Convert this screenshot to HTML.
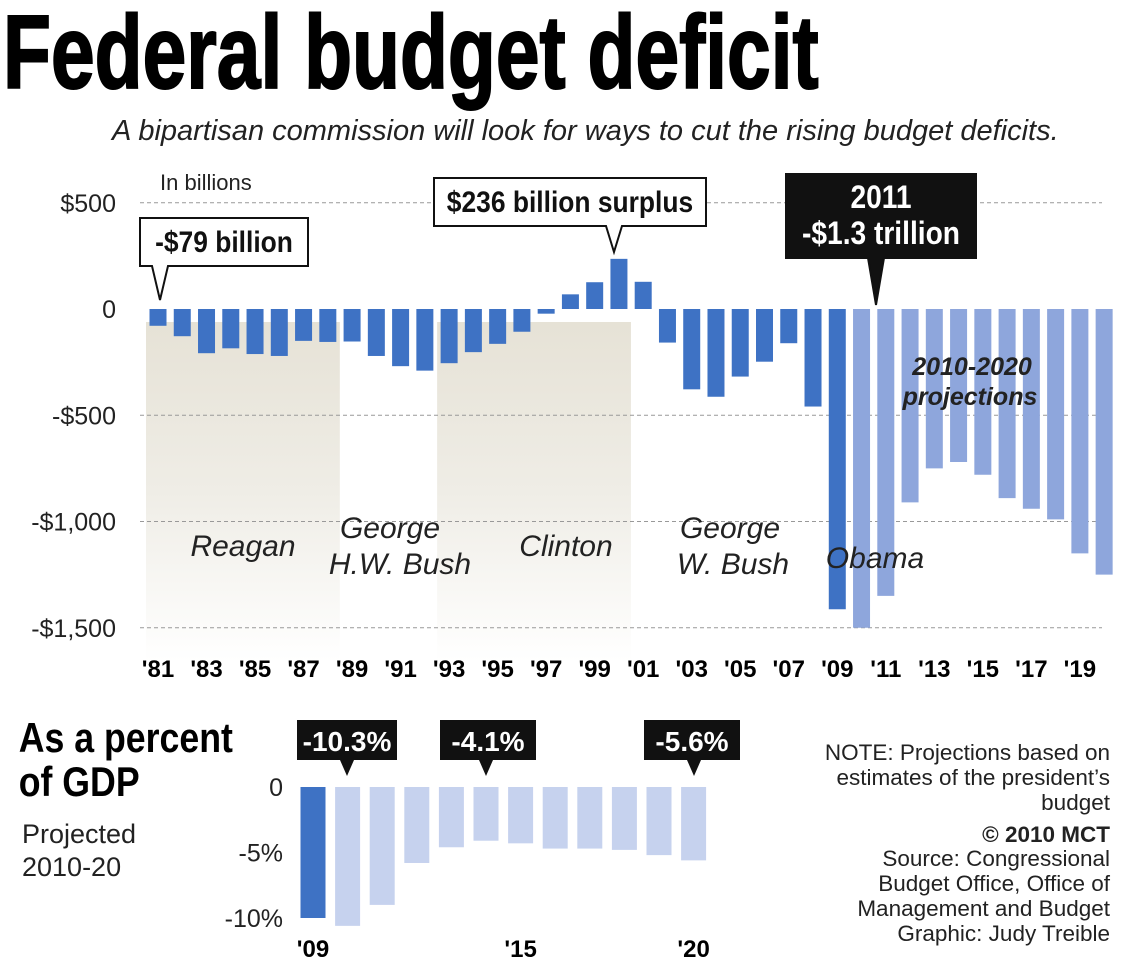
<!DOCTYPE html>
<html><head><meta charset="utf-8"><style>
body{margin:0;background:#fff;}
svg{display:block;font-family:"Liberation Sans",sans-serif;}
</style></head><body>
<svg id="c" width="1138" height="969" viewBox="0 0 1138 969">
<defs>
<linearGradient id="shade" x1="0" y1="0" x2="0" y2="1">
<stop offset="0" stop-color="#e6e2d6"/><stop offset="0.5" stop-color="#efede6"/><stop offset="1" stop-color="#ffffff"/>
</linearGradient>
</defs>
<text x="4" y="88" font-size="104" font-weight="bold" stroke="#000" stroke-width="2" transform="scale(0.755,1)">Federal budget deficit</text>
<text x="112" y="140" font-size="29" font-style="italic" fill="#222">A bipartisan commission will look for ways to cut the rising budget deficits.</text>
<g id="main"></g>
<g id="pct"></g>
<g font-size="22.5" fill="#222" text-anchor="end">
<text x="1110" y="760">NOTE: Projections based on</text>
<text x="1110" y="785">estimates of the president’s</text>
<text x="1110" y="810">budget</text>
<text x="1110" y="842" font-weight="bold">© 2010 MCT</text>
<text x="1110" y="866">Source: Congressional</text>
<text x="1110" y="891">Budget Office, Office of</text>
<text x="1110" y="916">Management and Budget</text>
<text x="1110" y="941">Graphic: Judy Treible</text>
</g>
<g>
<text x="22" y="752" font-size="42" font-weight="bold" transform="scale(0.85,1)">As a percent</text>
<text x="22" y="796" font-size="42" font-weight="bold" transform="scale(0.85,1)">of GDP</text>
<text x="22" y="843" font-size="27" fill="#222">Projected</text>
<text x="22" y="876" font-size="27" fill="#222">2010-20</text>
</g>
</svg>
<script>
const years=[1981,1982,1983,1984,1985,1986,1987,1988,1989,1990,1991,1992,1993,1994,1995,1996,1997,1998,1999,2000,2001,2002,2003,2004,2005,2006,2007,2008,2009,2010,2011,2012,2013,2014,2015,2016,2017,2018,2019,2020];
const deficits=[-79,-128,-208,-185,-212,-221,-150,-155,-153,-221,-269,-290,-255,-203,-164,-107,-22,69,126,236,128,-158,-378,-413,-318,-248,-161,-459,-1413,-1500,-1350,-910,-750,-720,-780,-890,-940,-990,-1150,-1250];
const yTicks=[500,0,-500,-1000,-1500];
const yTickLabels=["$500","0","-$500","-$1,000","-$1,500"];
const xTickYears=[1981,1983,1985,1987,1989,1991,1993,1995,1997,1999,2001,2003,2005,2007,2009,2011,2013,2015,2017,2019];
const pctYears=[2009,2010,2011,2012,2013,2014,2015,2016,2017,2018,2019,2020];
const pctValues=[-10.0,-10.6,-9.0,-5.8,-4.6,-4.1,-4.3,-4.7,-4.7,-4.8,-5.2,-5.6];
const pctTicks=[0,-5,-10];
const pctTickLabels=["0","-5%","-10%"];
const pctXLabels=[2009,2015,2020];

const NS="http://www.w3.org/2000/svg";
function mk(parent,tag,attrs,txt){const e=document.createElementNS(NS,tag);for(const k in attrs)e.setAttribute(k,attrs[k]);if(txt!==undefined)e.textContent=txt;parent.appendChild(e);return e;}
const X=y=>158+(y-1981)*24.26;
const Y=v=>309-v*0.2125;
const g=document.getElementById('main');
[[1981,1988],[1993,2000]].forEach(p=>{
 const r=mk(g,'rect',{x:X(p[0])-12,y:322,width:X(p[1])-X(p[0])+24,height:340,fill:'url(#shade)'});
 
 
});
yTicks.forEach((t,i)=>{
 if(t!==0){const l=mk(g,'line',{x1:140,x2:1102,y1:Y(t),y2:Y(t),stroke:'#999','stroke-dasharray':'4 3'});
 
 }
 const tx=mk(g,'text',{x:116,y:Y(t)+9,'font-size':25,'text-anchor':'end',fill:'#222'},yTickLabels[i]);
 
 
});
mk(g,'text',{x:160,y:190,'font-size':22,fill:'#222'},'In billions');
years.forEach((y,i)=>{
 const v=deficits[i];
 const r=mk(g,'rect',{x:X(y)-8.5,y:Math.min(Y(v),Y(0)),width:17,height:Math.abs(Y(v)-Y(0)),fill:y>=2010?'#8ea6dc':'#3e72c4'});
 
 
});
xTickYears.forEach(y=>{
 const t=mk(g,'text',{x:X(y),y:677,'font-size':24,'font-weight':'bold','text-anchor':'middle'},"'"+String(y).slice(2));
 
 
});
[["Reagan",243,556],["George",390,538],["H.W. Bush",400,574],["Clinton",566,556],["George",730,538],["W. Bush",733,574],["Obama",875,568]].forEach(n=>{
 const t=mk(g,'text',{x:n[1],y:n[2],'font-size':30,'font-style':'italic','text-anchor':'middle',fill:'#222'},n[0]);
 
 
});
mk(g,'text',{x:972,y:375,'font-size':25,'font-weight':'bold','font-style':'italic','text-anchor':'middle',fill:'#222'},'2010-2020');
mk(g,'text',{x:970,y:405,'font-size':25,'font-weight':'bold','font-style':'italic','text-anchor':'middle',fill:'#222'},'projections');
function callout(x,y,w,h,tipX,tipY,lines,dark,fs){
 const c=mk(g,'g',{});
 
 
 const fill=dark?'#111':'#fff';
 mk(c,'path',{d:`M${x},${y}h${w}v${h}H${tipX+8}L${tipX},${tipY}L${tipX-8},${y+h}H${x}Z`,fill:fill,stroke:'#111','stroke-width':2});
 lines.forEach((s,i)=>mk(c,'text',{x:x+w/2,y:y+34+i*36,'font-size':fs,'font-weight':'bold','text-anchor':'middle',fill:dark?'#fff':'#111',transform:`translate(${(x+w/2)*0.12},0) scale(0.88,1)`},s));
}
callout(140,218,168,48,160,300,['-$79 billion'],false,30);
callout(434,178,272,48,614,252,['$236 billion surplus'],false,30);
callout(786,174,190,84,876,305,['2011','-$1.3 trillion'],true,32);
const p=document.getElementById('pct');
const PX=y=>313+(y-2009)*34.6;
const PY=v=>787+v*(-13.1);
pctTicks.forEach((t,i)=>{
 const l=mk(p,'text',{x:283,y:PY(t)+9,'font-size':25,'text-anchor':'end',fill:'#222'},pctTickLabels[i]);
 
 
});
pctYears.forEach((y,i)=>{
 const r=mk(p,'rect',{x:PX(y)-12.5,y:PY(0),width:25,height:PY(pctValues[i])-PY(0),fill:y>=2010?'#c6d2ee':'#3e72c4'});
 
 
});
pctXLabels.forEach(y=>{
 const t=mk(p,'text',{x:PX(y),y:957,'font-size':24,'font-weight':'bold','text-anchor':'middle'},"'"+String(y).slice(2));
 
 
});
[[297,100,'-10.3%',347],[440,96,'-4.1%',486],[644,96,'-5.6%',694]].forEach(c=>{
 const gg=mk(p,'g',{});
 
 
 mk(gg,'path',{d:`M${c[0]},720h${c[1]}v40H${c[3]+7}L${c[3]},776L${c[3]-7},760H${c[0]}Z`,fill:'#111'});
 mk(gg,'text',{x:c[0]+c[1]/2,y:751,'font-size':28,'font-weight':'bold','text-anchor':'middle',fill:'#fff'},c[2]);
});
</script>
</body></html>
